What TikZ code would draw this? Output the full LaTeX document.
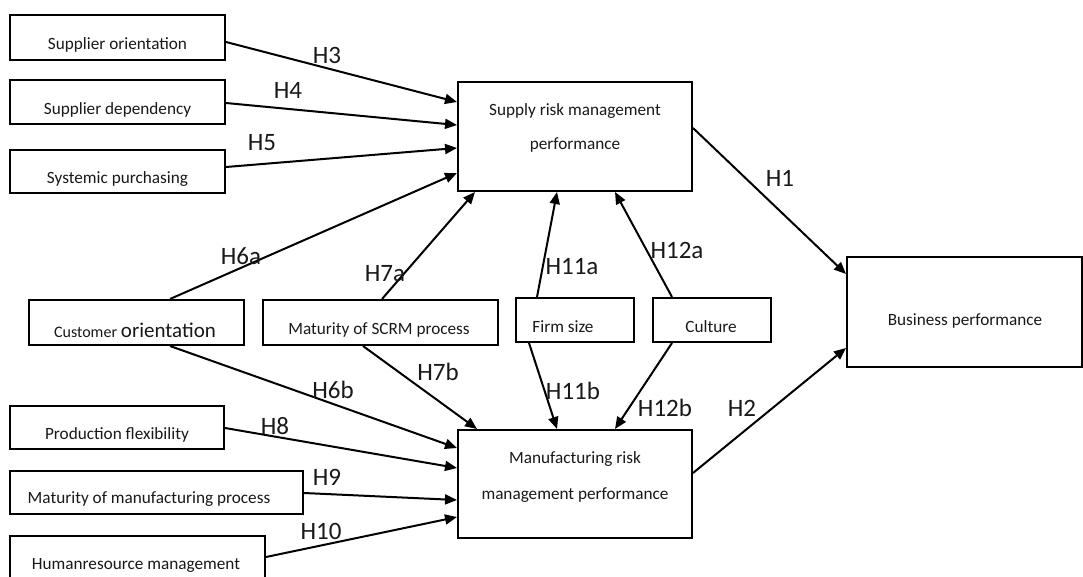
\documentclass[tikz,border=0pt]{standalone}
\usepackage{fontspec}
\setmainfont{Carlito}
\usetikzlibrary{arrows.meta,calc}
\tikzset{
  box/.style={draw=black, line width=2pt, rectangle, inner sep=0pt, fill=none},
  boxtext/.style={font=\fontsize{17.2}{20}\selectfont, text=black!90, inner sep=0pt, align=center},
  hlab/.style={font=\fontsize{25}{28}\selectfont, text=black!90, inner sep=0pt},
  arr/.style={line width=2pt, -{Triangle[length=12pt,width=10pt]}, shorten >=0pt},
}
\begin{document}
\begin{tikzpicture}[x=1pt,y=-1pt]
\useasboundingbox (0,0) rectangle (1083,577);
\fill[white] (0,0) rectangle (1083,577);
% boxes
\node[box, minimum width=215, minimum height=45] (so) at (117.5,37.5) {};
\node[box, minimum width=215, minimum height=44] (sd) at (117.5,102) {};
\node[box, minimum width=215, minimum height=43] (sp) at (117.5,171.5) {};
\node[box, minimum width=234, minimum height=109] (srm) at (575,136.5) {};
\node[box, minimum width=215, minimum height=45] (co) at (136.5,322.5) {};
\node[box, minimum width=235, minimum height=45] (ms) at (380.5,322.5) {};
\node[box, minimum width=118, minimum height=44] (fs) at (575,320) {};
\node[box, minimum width=118, minimum height=44] (cu) at (712,320) {};
\node[box, minimum width=235, minimum height=110] (bp) at (964.5,312) {};
\node[box, minimum width=214, minimum height=43] (pf) at (117,427.5) {};
\node[box, minimum width=293, minimum height=43] (mm) at (156.5,492.5) {};
\node[box, minimum width=255, minimum height=44] (hr) at (137.5,558) {};
\node[box, minimum width=234, minimum height=108] (mrm) at (575,484) {};
% box texts
\node[boxtext] (so-t) at (117.5,45) {Supplier orientation};
\node[boxtext] (sd-t) at (117.5,110) {Supplier dependency};
\node[boxtext] (sp-t) at (117.5,179) {Systemic purchasing};
\node[boxtext] (srm-t1) at (575,111) {Supply risk management};
\node[boxtext] (srm-t2) at (575,145) {performance};
\node[boxtext] (co-t) at (135,330) {{\fontsize{16}{20}\selectfont Customer} {\fontsize{21}{24}\selectfont orientation}};
\node[boxtext] (ms-t) at (379,330) {Maturity of SCRM process};
\node[boxtext] (fs-t) at (563,327) {Firm size};
\node[boxtext] (cu-t) at (711,327) {Culture};
\node[boxtext] (bp-t) at (965,321) {Business performance};
\node[boxtext] (pf-t) at (117,435) {Production flexibility};
\node[boxtext] (mm-t) at (149,499) {Maturity of manufacturing process};
\node[boxtext] (hr-t) at (136,565) {Humanresource management};
\node[boxtext] (mrm-t1) at (575,459) {Manufacturing risk};
\node[boxtext] (mrm-t2) at (575,495) {management performance};
% connectors
\draw[arr] ($(so.east)+(0,4.5)$) -- ($(srm.west)+(0,-34.5)$);
\draw[arr] ($(sd.east)+(0,1)$) -- ($(srm.west)+(0,-11.5)$);
\draw[arr] ($(sp.east)+(0,-4.5)$) -- ($(srm.west)+(0,11.5)$);
\draw[arr] ($(co.north)+(33.5,0)$) -- ($(srm.west)+(0,36.5)$);
\draw[arr] ($(ms.north)+(1.5,0)$) -- ($(srm.south)+(-100,0)$);
\draw[arr] ($(fs.north)+(-38,0)$) -- ($(srm.south)+(-18,0)$);
\draw[arr] ($(cu.north)+(-40,0)$) -- ($(srm.south)+(40,0)$);
\draw[arr] ($(srm.east)+(0,-8.5)$) -- ($(bp.west)+(0,-38)$);
\draw[arr] ($(co.south)+(33.5,0)$) -- ($(mrm.west)+(0,-36)$);
\draw[arr] ($(ms.south)+(-17.5,0)$) -- ($(mrm.north)+(-98,0)$);
\draw[arr] ($(fs.south)+(-46,0)$) -- ($(mrm.north)+(-18,0)$);
\draw[arr] ($(cu.south)+(-40,0)$) -- ($(mrm.north)+(40,0)$);
\draw[arr] ($(mrm.east)+(0,-11)$) -- ($(bp.west)+(0,36)$);
\draw[arr] ($(pf.east)+(0,0.5)$) -- ($(mrm.west)+(0,-16)$);
\draw[arr] ($(mm.east)+(0,0.5)$) -- ($(mrm.west)+(0,16)$);
\draw[arr] ($(hr.east)+(0,-1)$) -- ($(mrm.west)+(0,33)$);
% hypothesis labels
\node[hlab] (h3) at (327,55) {H3};
\node[hlab] (h4) at (288,90) {H4};
\node[hlab] (h5) at (262,143) {H5};
\node[hlab] (h6a) at (241,256) {H6a};
\node[hlab] (h7a) at (385,274) {H7a};
\node[hlab] (h11a) at (572,267) {H11a};
\node[hlab] (h12a) at (677,250) {H12a};
\node[hlab] (h1) at (780,178) {H1};
\node[hlab] (h6b) at (333,390) {H6b};
\node[hlab] (h7b) at (438,372) {H7b};
\node[hlab] (h11b) at (573,391) {H11b};
\node[hlab] (h12b) at (665,408) {H12b};
\node[hlab] (h2) at (742,408) {H2};
\node[hlab] (h8) at (275,426) {H8};
\node[hlab] (h9) at (327,477) {H9};
\node[hlab] (h10) at (321,531) {H10};
\end{tikzpicture}
\end{document}
